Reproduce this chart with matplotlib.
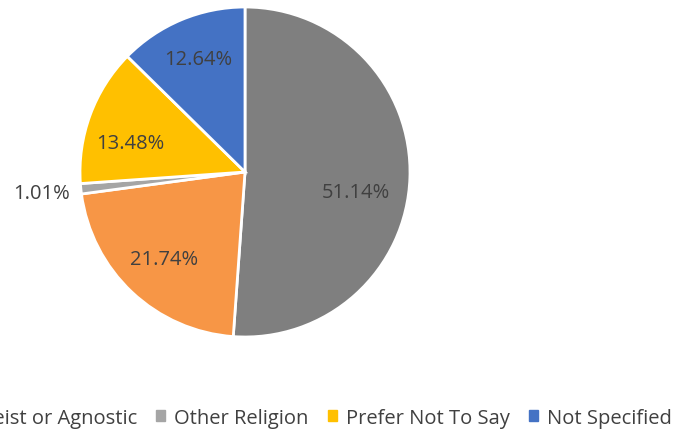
import numpy as np
import matplotlib.pyplot as plt

# religion breakdown, clockwise from 12 o'clock
labels = ['Christian', 'Atheist or Agnostic', 'Other Religion', 'Prefer Not To Say', 'Not Specified']
shares = [51.14, 21.74, 1.01, 13.48, 12.64]
colors = ['#7F7F7F', '#F79646', '#A5A5A5', '#FFC000', '#4472C4']

# where each percentage sits: radius fraction and small angle nudge (deg)
label_dist = [0.68, 0.72, 1.24, 0.72, 0.74]
label_nudge = [-8, 0, 0, 6, 0]

plt.rcParams['font.family'] = ['Open Sans', 'DejaVu Sans']

fig = plt.figure(figsize=(6.75, 4.31), dpi=100)
ax = fig.add_axes([80 / 675, 93 / 431, 330 / 675, 330 / 431])

wedges, _ = ax.pie(shares, colors=colors, startangle=90, counterclock=False,
                   radius=1.0, wedgeprops=dict(edgecolor='white', linewidth=2))
ax.set_xlim(-1, 1)
ax.set_ylim(-1, 1)
ax.set_aspect('equal')

for w, val, d, nudge in zip(wedges, shares, label_dist, label_nudge):
    ang = np.deg2rad((w.theta1 + w.theta2) / 2 + nudge)
    ax.text(d * np.cos(ang), d * np.sin(ang), '%.2f%%' % val,
            ha='center', va='center', fontsize=14.5, color='#404040')

handles = [plt.Rectangle((0, 0), 1, 1, color=c) for c in colors]
fig.legend(handles, labels, ncol=5, loc='center right', bbox_to_anchor=(1.007, 0.028),
           frameon=False, fontsize=14.5, handlelength=0.45, handleheight=0.45,
           handletextpad=0.45, columnspacing=0.95, borderaxespad=0, labelcolor='#404040')

fig.savefig('out.png', dpi=100)
